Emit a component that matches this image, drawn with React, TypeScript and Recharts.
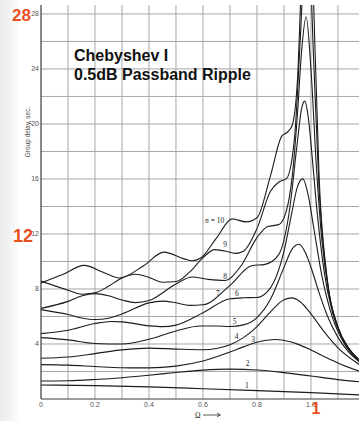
import { LineChart, Line, XAxis, YAxis, ReferenceLine } from 'recharts';

type Pt = [number, number];

// Group delay (s) against frequency normalised to the 3 dB point, one list per filter order
const order1: Pt[] = [[0, 1.02], [0.2, 0.97], [0.4, 0.88], [0.6, 0.75], [0.8, 0.61], [1.0, 0.46], [1.18, 0.3]];
const order2: Pt[] = [[0, 1.31], [0.1, 1.33], [0.2, 1.42], [0.3, 1.55], [0.4, 1.73], [0.5, 1.93], [0.6, 2.1], [0.7, 2.17], [0.8, 2.11], [0.9, 1.92], [1.0, 1.67], [1.1, 1.41], [1.18, 1.25]];
const order3: Pt[] = [[0, 2.5], [0.1, 2.46], [0.2, 2.36], [0.3, 2.27], [0.4, 2.26], [0.5, 2.39], [0.6, 2.76], [0.7, 3.41], [0.75, 3.79], [0.8, 4.13], [0.87, 4.33], [0.92, 4.18], [0.95, 3.99], [1.0, 3.56], [1.05, 3.08], [1.1, 2.62], [1.18, 2.01]];
const order4: Pt[] = [[0, 2.96], [0.1, 3.05], [0.2, 3.3], [0.3, 3.57], [0.4, 3.7], [0.5, 3.63], [0.6, 3.58], [0.7, 3.95], [0.75, 4.46], [0.8, 5.27], [0.85, 6.34], [0.9, 7.22], [0.93, 7.35], [0.96, 7.07], [1.0, 6.19], [1.05, 4.86], [1.1, 3.72], [1.18, 2.5]];
const order5: Pt[] = [[0, 4.46], [0.1, 4.3], [0.2, 4.04], [0.3, 4.0], [0.4, 4.34], [0.5, 4.95], [0.59, 5.31], [0.65, 5.31], [0.7, 5.27], [0.75, 5.39], [0.8, 5.92], [0.85, 7.25], [0.9, 9.57], [0.93, 10.9], [0.955, 11.25], [0.98, 10.62], [1.0, 9.58], [1.03, 7.74], [1.06, 6.09], [1.1, 4.48], [1.14, 3.41], [1.18, 2.7]];
const order6: Pt[] = [[0, 4.75], [0.1, 5.0], [0.2, 5.49], [0.26, 5.64], [0.3, 5.61], [0.4, 5.32], [0.45, 5.26], [0.5, 5.37], [0.6, 6.27], [0.7, 7.29], [0.75, 7.36], [0.8, 7.38], [0.85, 8.08], [0.9, 10.73], [0.93, 13.63], [0.95, 15.44], [0.97, 16.01], [0.99, 14.81], [1.01, 12.49], [1.04, 9.0], [1.08, 5.9], [1.12, 4.15], [1.18, 2.77]];
const order7: Pt[] = [[0, 6.5], [0.1, 6.14], [0.15, 5.89], [0.2, 5.78], [0.25, 5.87], [0.3, 6.18], [0.4, 6.99], [0.45, 7.12], [0.5, 7.0], [0.55, 6.81], [0.6, 6.85], [0.7, 8.26], [0.78, 9.69], [0.83, 9.79], [0.88, 10.48], [0.92, 13.65], [0.95, 18.74], [0.965, 21.08], [0.977, 21.66], [0.99, 20.49], [1.0, 18.61], [1.02, 14.17], [1.05, 9.12], [1.08, 6.27], [1.12, 4.25], [1.18, 2.78]];
const order8: Pt[] = [[0, 6.59], [0.1, 7.1], [0.15, 7.49], [0.2, 7.66], [0.25, 7.51], [0.3, 7.2], [0.35, 7.01], [0.4, 7.16], [0.5, 8.36], [0.56, 8.87], [0.62, 8.7], [0.68, 8.62], [0.74, 9.65], [0.8, 11.74], [0.84, 12.54], [0.88, 12.68], [0.9, 13.17], [0.92, 14.68], [0.93, 16.08], [0.95, 20.73], [0.965, 25.2], [0.982, 27.8], [1.0, 24.0], [1.02, 16.92], [1.04, 11.63], [1.07, 7.33], [1.1, 5.18], [1.14, 3.66], [1.18, 2.81]];
const order9: Pt[] = [[0, 8.57], [0.1, 7.91], [0.15, 7.62], [0.2, 7.72], [0.25, 8.2], [0.3, 8.8], [0.35, 9.07], [0.4, 8.84], [0.45, 8.49], [0.5, 8.54], [0.55, 9.22], [0.6, 10.28], [0.644, 10.86], [0.7, 10.67], [0.72, 10.59], [0.75, 10.75], [0.8, 12.39], [0.85, 15.1], [0.88, 15.76], [0.91, 16.04], [0.94, 19.18], [0.96, 25.98], [0.986, 35.5], [1.01, 24.68], [1.03, 15.31], [1.06, 8.65], [1.1, 5.2], [1.14, 3.67], [1.18, 2.81]];
const order10: Pt[] = [[0, 8.44], [0.08, 9.05], [0.16, 9.72], [0.23, 9.22], [0.29, 8.8], [0.38, 9.69], [0.455, 10.68], [0.53, 10.19], [0.56, 10.05], [0.59, 10.23], [0.65, 11.7], [0.708, 13.1], [0.76, 12.88], [0.8, 13.18], [0.85, 16.23], [0.892, 19.12], [0.91, 19.36], [0.93, 19.87], [0.95, 23.19], [0.97, 33.8], [0.989, 43.8], [1.01, 28.83], [1.03, 16.3], [1.06, 8.78], [1.1, 5.23], [1.14, 3.69], [1.18, 2.83]];

const orders = [order1, order2, order3, order4, order5, order6, order7, order8, order9, order10];

const xGrid = [0.1, 0.2, 0.3, 0.4, 0.5, 0.6, 0.7, 0.8, 0.9, 1.0, 1.1];
const yGrid = [2, 4, 6, 8, 10, 12, 14, 16, 18, 20, 22, 24, 26, 28];
const xTicks = [0, 0.2, 0.4, 0.6, 0.8, 1.0];
const yTicks = [4, 8, 12, 16, 20, 24, 28];
const orderNames = ['1', '2', '3', '4', '5', '6', '7', '8', '9'];

// where each order number sits beside its curve (px)
const nameSpots: Pt[] = [[245, 387.7], [245.7, 366], [251.3, 341.7], [234.7, 338.7], [232.7, 324.3], [235, 296], [216, 296], [223.3, 278.7], [223.3, 247]];

const W = 359;
const H = 421;
const sans = '"Liberation Sans", Arial, sans-serif';
const serif = '"Liberation Serif", "Times New Roman", serif';
const orange = '#e8501e';
const gridColor = '#a6a6a6';
const ink = '#222222';

export default function App() {
  return (
    <div
      style={{
        position: 'absolute',
        left: 0,
        top: 0,
        width: W,
        height: H,
        background: 'linear-gradient(90deg, #ececec 0px, #f5f5f5 12px, #ffffff 20px)',
      }}
    >
      <LineChart width={W} height={H} margin={{ top: 5, right: 0, bottom: 0, left: 0 }}>
        {xGrid.map((v) => (
          <ReferenceLine key={'gx' + v} x={v} stroke={gridColor} strokeWidth={1} />
        ))}
        {yGrid.map((v) => (
          <ReferenceLine key={'gy' + v} y={v} stroke={gridColor} strokeWidth={1} />
        ))}
        <XAxis
          dataKey="x"
          type="number"
          domain={[0, 1.178]}
          allowDataOverflow
          ticks={xTicks}
          tickFormatter={(v: number) => (v === 0 ? '0' : v.toFixed(1))}
          height={22}
          tickSize={0}
          tickMargin={3}
          tick={{ fontSize: 7, fill: '#555', fontFamily: sans }}
          axisLine={{ stroke: '#3a3a3a', strokeWidth: 1.2 }}
        />
        <YAxis
          type="number"
          domain={[0, 28.65]}
          allowDataOverflow
          ticks={yTicks}
          width={41}
          tickSize={0}
          tickMargin={2}
          tick={{ fontSize: 7, fill: '#555', fontFamily: sans }}
          axisLine={{ stroke: '#3a3a3a', strokeWidth: 1.2 }}
        />
        {orders.map((pts, i) => (
          <Line
            key={i}
            data={pts.map(([x, y]) => ({ x, y }))}
            dataKey="y"
            type="monotone"
            stroke="#1c1c1c"
            strokeWidth={1.1}
            dot={false}
            isAnimationActive={false}
          />
        ))}
      </LineChart>

      <svg width={W} height={H} style={{ position: 'absolute', left: 0, top: 0, pointerEvents: 'none' }}>
        <g fontFamily={sans} fontWeight={700} fontSize={16} fill="#111">
          <text x={74} y={60.5}>Chebyshev I</text>
          <text x={74} y={79.5}>0.5dB Passband Ripple</text>
        </g>
        <text
          transform="translate(30,132) rotate(-90)"
          textAnchor="middle"
          fontFamily={sans}
          fontSize={6.5}
          fill="#444"
        >
          Group delay, sec.
        </text>

        {orderNames.map((name, i) => (
          <text key={name} x={nameSpots[i][0]} y={nameSpots[i][1]} fontFamily={serif} fontSize={7.5} fill={ink}>
            {name}
          </text>
        ))}
        <text x={205} y={222.5} fontFamily={serif} fontSize={7.5} fill={ink}>
          <tspan fontStyle="italic">n</tspan> = 10
        </text>
        <text x={195} y={417.5} fontFamily={serif} fontSize={7.5} fill={ink}>
          Ω
        </text>
        <path d="M203 415 H220 M217 413.3 L220.5 415 L217 416.7" stroke="#333" strokeWidth={0.8} fill="none" />

        <g fontFamily={sans} fontWeight={700} fill={orange}>
          <text x={12} y={20.7} fontSize={17}>28</text>
          <text x={13} y={241.5} fontSize={18}>12</text>
          <text x={311.5} y={413.5} fontSize={16}>1</text>
        </g>
      </svg>
    </div>
  );
}
